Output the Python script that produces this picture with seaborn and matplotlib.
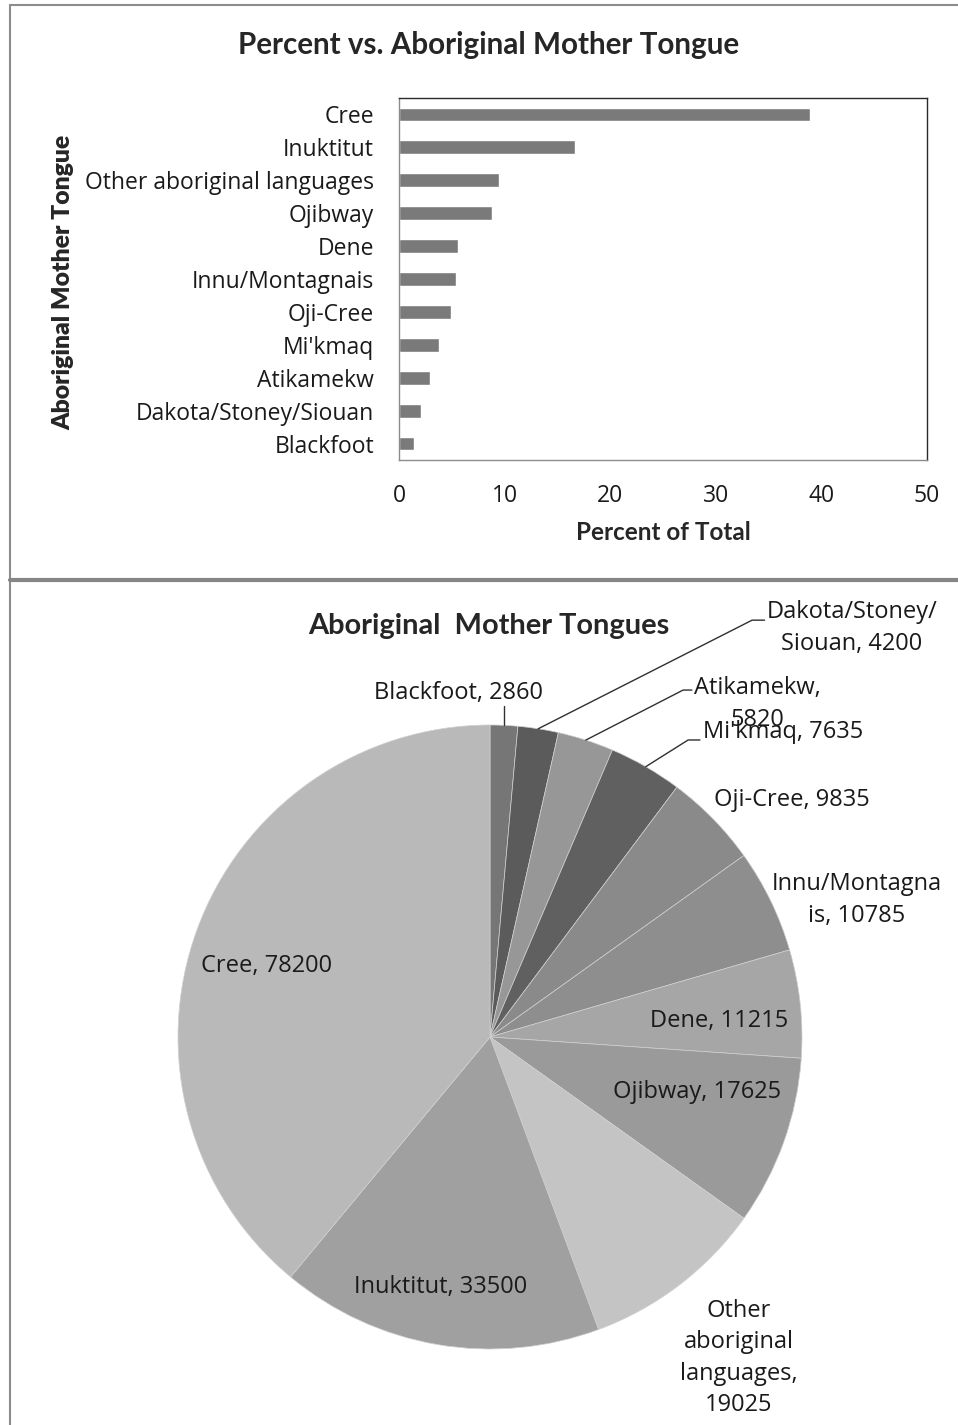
import numpy as np
import pandas as pd
import seaborn as sns
import matplotlib.pyplot as plt
from matplotlib.lines import Line2D

# Data
languages = ['Cree', 'Inuktitut', 'Other aboriginal languages', 'Ojibway', 'Dene',
             'Innu/Montagnais', 'Oji-Cree', "Mi'kmaq", 'Atikamekw',
             'Dakota/Stoney/Siouan', 'Blackfoot']
percent = [38.96, 16.69, 9.48, 8.78, 5.59, 5.37, 4.90, 3.80, 2.90, 2.09, 1.43]

# pie order (clockwise from the top)
pie_names = ['Blackfoot', 'Dakota/Stoney/Siouan', 'Atikamekw', "Mi'kmaq", 'Oji-Cree',
             'Innu/Montagnais', 'Dene', 'Ojibway', 'Other aboriginal languages',
             'Inuktitut', 'Cree']
pie_counts = [2860, 4200, 5820, 7635, 9835, 10785, 11215, 17625, 19025, 33500, 78200]
pie_texts = ['Blackfoot, 2860', 'Dakota/Stoney/\nSiouan, 4200', 'Atikamekw,\n5820',
             "Mi'kmaq, 7635", 'Oji-Cree, 9835', 'Innu/Montagna\nis, 10785',
             'Dene, 11215', 'Ojibway, 17625', 'Other\naboriginal\nlanguages,\n19025',
             'Inuktitut, 33500', 'Cree, 78200']
pie_colors = ['#767676', '#5b5b5b', '#979797', '#606060', '#8a8a8a', '#8e8e8e',
              '#a6a6a6', '#9a9a9a', '#c4c4c4', '#a0a0a0', '#b9b9b9']

# label layout (pie radius units)
label_xy = [(-0.10, 1.103), (1.16, 1.311), (0.857, 1.067), (0.939, 0.978),
            (0.968, 0.760), (1.176, 0.439), (0.734, 0.051), (0.663, -0.176),
            (0.798, -1.029), (-0.157, -0.801), (-0.715, 0.228)]
# leader elbows: (elbow, end) or None
leaders = [((None, 1.06), None), ((0.84, 1.336), (0.88, 1.336)),
           ((0.619, 1.112), (0.647, 1.112)), ((0.635, 0.952), (0.673, 0.952)),
           None, None, None, None, None, None, None]

sns.set_style('white')
plt.rcParams['font.family'] = ['Open Sans', 'DejaVu Sans']
BOLD = 'Lato'

fig = plt.figure(figsize=(9.58, 14.25), dpi=100)

# ---- bar chart ----
ax1 = fig.add_axes([399 / 958, 1 - 460 / 1425, 528 / 958, 362 / 1425])
df = pd.DataFrame({'lang': languages, 'pct': percent})
sns.barplot(data=df, x='pct', y='lang', orient='h', color='#7a7a7a',
            width=0.42, saturation=1, ax=ax1)
ax1.set_xlim(0, 50)
ax1.set_ylim(10.5, -0.5)
ax1.set_xticks(range(0, 51, 10))
ax1.set_yticks(np.arange(-0.5, 11, 1), minor=True)
ax1.tick_params(axis='y', which='major', length=0, labelsize=16.5, pad=18, colors='#1a1a1a')
ax1.tick_params(axis='y', which='minor', length=6, direction='out', color='#8c8c8c', width=1)
ax1.tick_params(axis='x', length=6, direction='out', color='#8c8c8c', width=1,
                labelsize=16.5, pad=11, labelcolor='#1a1a1a')
for s in ['left', 'bottom']:
    ax1.spines[s].set_color('#8c8c8c')
for s in ['top', 'right']:
    ax1.spines[s].set_color('#2a2a2a')
for s in ax1.spines.values():
    s.set_linewidth(1)
ax1.set_xlabel('Percent of Total', fontsize=17.5, fontweight='bold', family=BOLD)
ax1.set_ylabel('Aboriginal Mother Tongue', fontsize=17.8, fontweight='heavy', family=BOLD)
ax1.xaxis.set_label_coords(0.50, -0.168)
ax1.yaxis.set_label_coords(-0.614, 0.49)
fig.text(489 / 958, 1 - 45 / 1425, 'Percent vs. Aboriginal Mother Tongue',
         ha='center', va='center', fontsize=21.3, fontweight='bold', family=BOLD)

# ---- pie chart ----
ax2 = fig.add_axes([(490 - 312) / 958, 1 - 1349 / 1425, 624 / 958, 624 / 1425])
wedges, _ = ax2.pie(pie_counts, colors=pie_colors, startangle=90, counterclock=False,
                    radius=1, wedgeprops=dict(edgecolor='#d0d0d0', linewidth=0.5))
ax2.set_xlim(-1, 1)
ax2.set_ylim(-1, 1)
ax2.set_aspect('equal')
ax2.axis('off')

for w, txt, (tx, ty), ld in zip(wedges, pie_texts, label_xy, leaders):
    ax2.text(tx, ty, txt, ha='center', va='center', fontsize=17, color='#1a1a1a',
             linespacing=1.42, clip_on=False)
    if ld is None:
        continue
    mid = np.deg2rad((w.theta1 + w.theta2) / 2)
    ex, ey = np.cos(mid), np.sin(mid)
    elbow, end = ld
    if elbow[0] is None:
        xs, ys = [ex, ex], [ey, elbow[1]]
    else:
        xs, ys = [ex, elbow[0], end[0]], [ey, elbow[1], end[1]]
    ax2.add_line(Line2D(xs, ys, color='#303030', lw=1, clip_on=False))

fig.text(489 / 958, 1 - 626 / 1425, 'Aboriginal  Mother Tongues',
         ha='center', va='center', fontsize=20.9, fontweight='bold', family=BOLD)

# panel borders
fig.add_artist(Line2D([10 / 958, 1], [1 - 5 / 1425] * 2, color='#8c8c8c', lw=1.5))
fig.add_artist(Line2D([10 / 958] * 2, [0, 1 - 5 / 1425], color='#8c8c8c', lw=1.5))
fig.add_artist(Line2D([10 / 958, 1], [1 - 580 / 1425] * 2, color='#868686', lw=3))

fig.savefig('out.png', dpi=100)
